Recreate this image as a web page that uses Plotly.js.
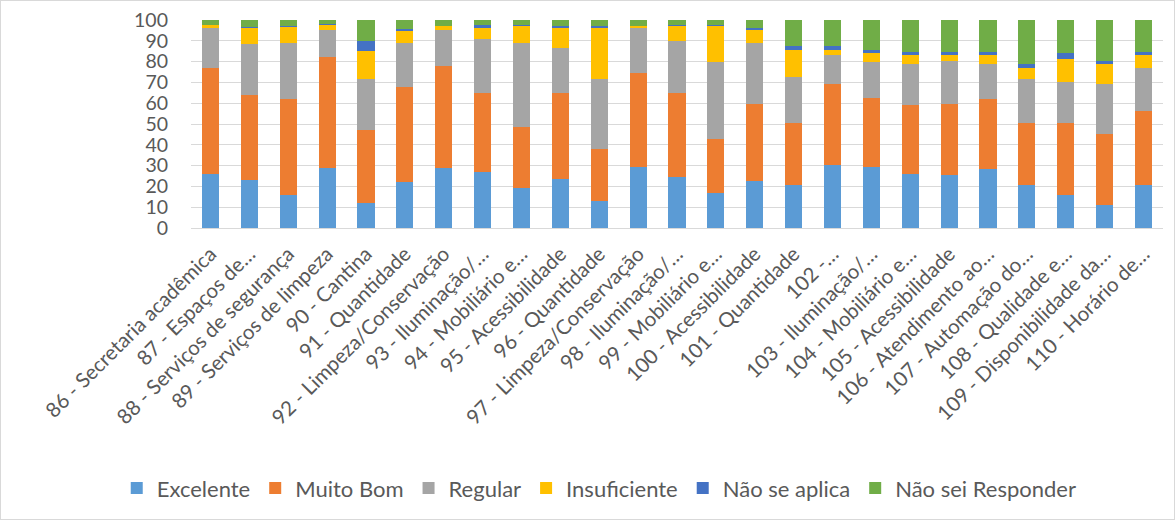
<!DOCTYPE html>
<html><head><meta charset="utf-8">
<script src="https://cdn.plot.ly/plotly-3.0.1.min.js"></script>
<style>html,body{margin:0;padding:0;background:#fff}#c{width:1173px;height:518px;border:1px solid #d9d9d9}</style>
</head><body><div id="c"></div>
<script>
const categories = ["86 - Secretaria acadêmica","87 - Espaços de…","88 - Serviços de segurança","89 - Serviços de limpeza","90 - Cantina","91 - Quantidade","92 - Limpeza/Conservação","93 - Iluminação/…","94 - Mobiliário e…","95 - Acessibilidade","96 - Quantidade","97 - Limpeza/Conservação","98 - Iluminação/…","99 - Mobiliário e…","100 - Acessibilidade","101 - Quantidade","102 -…","103 - Iluminação/…","104 - Mobiliário e…","105 - Acessibilidade","106 - Atendimento ao…","107 - Automação do…","108 - Qualidade e…","109 - Disponibilidade da…","110 - Horário de…"];
const excelente    = [26,23,16,29,12,22,29,27,19.4,23.7,13,29.4,24.6,16.6,22.7,20.5,30.4,29.4,26.2,25.3,28.2,20.8,16,10.9,20.5];
const muitoBom     = [51,41,46,53,35,46,49,38,29.2,41.3,25,45.2,40.4,26,37.1,30.1,39,33.3,33,34.5,33.6,29.8,34.6,34.5,35.8];
const regular      = [19.3,24.6,27,13,24.6,21,17,25.7,40.4,21.7,33.6,21.7,24.9,37.4,29.2,22,13.8,17.3,19.8,20.5,17.2,21.1,19.8,24,20.8];
const insuficiente = [1.3,7.4,7.5,2.5,13.3,5.5,2.1,5.5,8.3,9.5,24.6,1,7.4,17.3,6.4,13.2,2.6,4.3,4.2,2.9,4.2,5.4,10.9,9.6,6.1];
const naoSeAplica  = [0,0.8,0.8,0.8,5.1,1,0,1.2,0.3,1.1,0.8,0,0.5,0.5,0.9,1.9,1.9,1.5,1.6,1.6,1.6,1.9,2.9,1.3,1.6];
const naoSei       = [2.4,3.2,2.9,1.6,10.2,4.5,2.7,2.6,2.4,2.7,2.9,2.7,2.2,2.2,3.7,12.3,12.3,14.2,15.2,15.2,15.2,21,15.8,19.7,15.2];
const seriesNames = ["Excelente","Muito Bom","Regular","Insuficiente","Não se aplica","Não sei Responder"];
const seriesData = [excelente,muitoBom,regular,insuficiente,naoSeAplica,naoSei];
const colors = ["#5B9BD5","#ED7D31","#A5A5A5","#FFC000","#4472C4","#70AD47"];
const font = "Lato, 'Open Sans', sans-serif";
const traces = seriesNames.map((n,i)=>({type:"bar",name:n,x:categories,y:seriesData[i],marker:{color:colors[i]},hoverinfo:"x+y+name"}));
const layout = {
  barmode:"stack", bargap:0.56,
  width:1173, height:518,
  margin:{l:190,r:11,t:19,b:290},
  paper_bgcolor:"#fff", plot_bgcolor:"#fff",
  font:{family:font,color:"#595959"},
  xaxis:{type:"category",tickangle:-45,tickfont:{size:20.5,color:"#595959",family:font},showgrid:false,showline:true,linecolor:"#d9d9d9",linewidth:1,ticks:"",ticklabelstandoff:5,automargin:false},
  yaxis:{range:[0,100],dtick:10,tickfont:{size:19.5,color:"#595959",family:font},showgrid:true,gridcolor:"#d9d9d9",gridwidth:1,zeroline:false,showline:false,ticks:"",ticklabelstandoff:22,automargin:false},
  showlegend:true,
  legend:{orientation:"h",x:0.42,xanchor:"center",y:-1.24,yanchor:"middle",font:{size:22,color:"#595959",family:font},traceorder:"normal",itemwidth:30}
};
Plotly.newPlot("c",traces,layout,{displayModeBar:false,staticPlot:true});
</script></body></html>
